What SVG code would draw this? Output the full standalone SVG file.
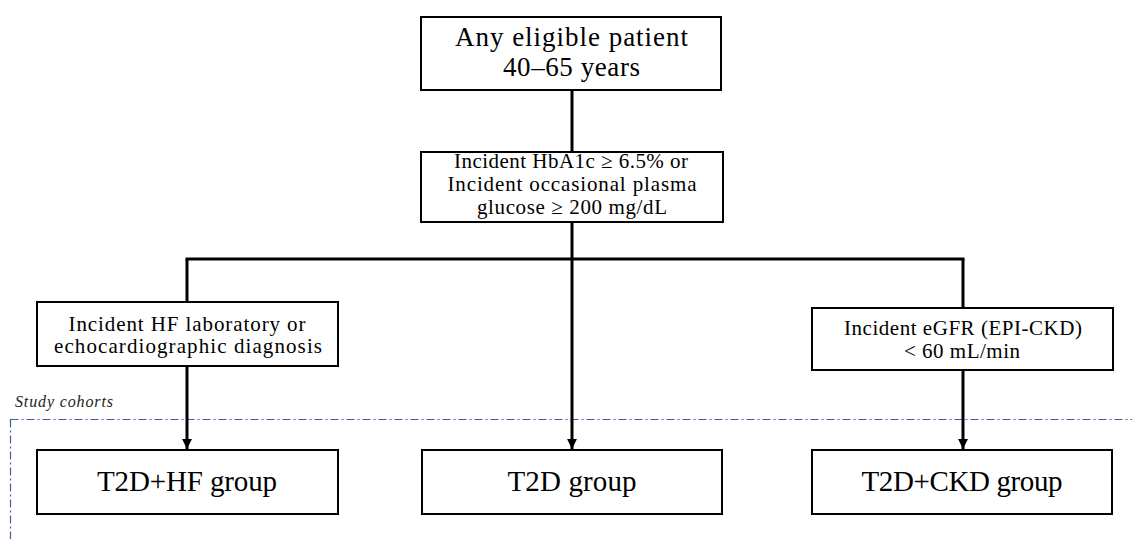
<svg xmlns="http://www.w3.org/2000/svg" width="1132" height="539" viewBox="0 0 1132 539">
<style>
.box{fill:#fff;stroke:#000;stroke-width:2}
.t{font-family:"Liberation Serif","Times New Roman",serif;fill:#000;text-anchor:middle}
.big{font-size:29px}
.top{font-size:27px}
.mid{font-size:21px}
.con{stroke:#000;stroke-width:3;fill:none}
</style>
<defs>
<marker id="ah" viewBox="0 0 10 10" refX="10" refY="5" markerWidth="3.3" markerHeight="3.3" orient="auto" markerUnits="strokeWidth">
<path d="M0,0 L10,5 L0,10 z" fill="#000"/>
</marker>
</defs>
<rect x="10.5" y="419.5" width="1130" height="130" fill="none" stroke="#3f5f9a" stroke-width="1.2" stroke-dasharray="8 3 2 3"/>
<text x="15" y="407" textLength="98" lengthAdjust="spacing" style="font-family:'Liberation Serif','Times New Roman',serif;font-style:italic;font-size:16px;fill:#222">Study cohorts</text>
<g id="connectors">
<line class="con" x1="572" y1="90" x2="572" y2="152"/>
<line class="con" x1="572" y1="222" x2="572" y2="449" marker-end="url(#ah)"/>
<line class="con" x1="185.5" y1="259" x2="964.5" y2="259"/>
<line class="con" x1="187" y1="259" x2="187" y2="302"/>
<line class="con" x1="187" y1="366" x2="187" y2="449" marker-end="url(#ah)"/>
<line class="con" x1="963" y1="259" x2="963" y2="308"/>
<line class="con" x1="963" y1="370" x2="963" y2="449" marker-end="url(#ah)"/>
</g>
<g id="start">
<rect class="box" x="421" y="17" width="300" height="73"/>
<text class="t top" x="571.5" y="46" textLength="233" lengthAdjust="spacing">Any eligible patient</text>
<text class="t top" x="571.5" y="76" textLength="137" lengthAdjust="spacing">40–65 years</text>
</g>
<g id="incident">
<rect class="box" x="421" y="152" width="302" height="70"/>
<text class="t mid" x="571" y="168" textLength="234" lengthAdjust="spacing">Incident HbA1c ≥ 6.5% or</text>
<text class="t mid" x="572" y="191" textLength="249" lengthAdjust="spacing">Incident occasional plasma</text>
<text class="t mid" x="572" y="214" textLength="190" lengthAdjust="spacing">glucose ≥ 200 mg/dL</text>
</g>
<g id="hf">
<rect class="box" x="37" y="302" width="301" height="64"/>
<text class="t mid" x="187" y="331" textLength="237" lengthAdjust="spacing">Incident HF laboratory or</text>
<text class="t mid" x="188" y="353" textLength="268" lengthAdjust="spacing">echocardiographic diagnosis</text>
</g>
<g id="ckd">
<rect class="box" x="812" y="308" width="301" height="62"/>
<text class="t mid" x="963" y="335" textLength="238" lengthAdjust="spacing">Incident eGFR (EPI-CKD)</text>
<text class="t mid" x="962" y="358" textLength="116" lengthAdjust="spacing">&lt; 60 mL/min</text>
</g>
<g id="t2dhf">
<rect class="box" x="37" y="450" width="301" height="64"/>
<text class="t big" x="187" y="491" textLength="180" lengthAdjust="spacing">T2D+HF group</text>
</g>
<g id="t2d">
<rect class="box" x="422" y="450" width="300" height="64"/>
<text class="t big" x="572" y="491" textLength="129" lengthAdjust="spacing">T2D group</text>
</g>
<g id="t2dckd">
<rect class="box" x="812" y="450" width="300" height="64"/>
<text class="t big" x="962" y="491" textLength="201" lengthAdjust="spacing">T2D+CKD group</text>
</g>
</svg>
